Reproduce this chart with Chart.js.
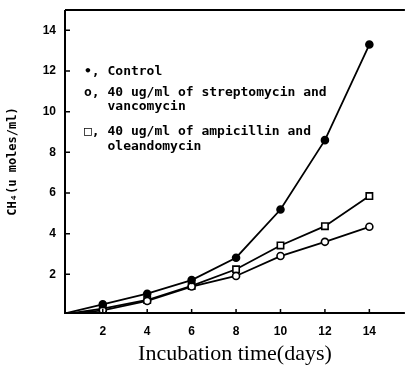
<!DOCTYPE html>
<html>
<head>
<meta charset="utf-8">
<script src="https://cdn.jsdelivr.net/npm/chart.js@4/dist/chart.umd.min.js"></script>
<style>
  html, body { margin: 0; padding: 0; background: #fff; }
  #wrap { width: 411px; height: 365px; }
</style>
</head>
<body>
<div id="wrap"><canvas id="ch4Chart"></canvas></div>
<script>
// data
const days = [0, 2, 4, 6, 8, 10, 12, 14];
const control = [0, 0.53, 1.05, 1.72, 2.82, 5.19, 8.6, 13.3];
const strepVanco = [0, 0.23, 0.69, 1.4, 1.92, 2.9, 3.6, 4.34];
const ampiOleando = [0, 0.31, 0.74, 1.43, 2.25, 3.42, 4.37, 5.85];
const xTicks = [2, 4, 6, 8, 10, 12, 14];
const yTicks = [2, 4, 6, 8, 10, 12, 14];
const legendLines = [
  "•, Control",
  "o, 40 ug/ml of streptomycin and",
  "   vancomycin",
  "□, 40 ug/ml of ampicillin and",
  "   oleandomycin"
];

const toPts = arr => arr.map((v, i) => ({ x: days[i], y: v }));

// inward ticks + top border + legend text
const decor = {
  id: "decor",
  afterDraw(chart) {
    const { ctx, chartArea, scales } = chart;
    ctx.save();
    ctx.strokeStyle = "#000";
    ctx.lineWidth = 2;
    ctx.beginPath();
    ctx.moveTo(chartArea.left, chartArea.top);
    ctx.lineTo(chartArea.right, chartArea.top);
    ctx.moveTo(chartArea.left, chartArea.top);
    ctx.lineTo(chartArea.left, chartArea.bottom);
    ctx.lineTo(chartArea.right, chartArea.bottom);
    ctx.stroke();
    ctx.lineWidth = 1.5;
    ctx.beginPath();
    yTicks.forEach(t => {
      const y = scales.y.getPixelForValue(t);
      ctx.moveTo(chartArea.left, y);
      ctx.lineTo(chartArea.left + 5, y);
    });
    xTicks.forEach(t => {
      const x = scales.x.getPixelForValue(t);
      ctx.moveTo(x, chartArea.bottom);
      ctx.lineTo(x, chartArea.bottom - 4);
    });
    ctx.stroke();

    ctx.fillStyle = "#000";
    ctx.font = "bold 13px 'DejaVu Sans Mono'";
    ctx.textBaseline = "middle";
    const ys = [72, 93, 107, 132, 147];
    legendLines.forEach((s, i) => ctx.fillText(s, 84, ys[i]));
    ctx.restore();
  }
};

new Chart(document.getElementById("ch4Chart"), {
  type: "line",
  data: {
    datasets: [
      {
        label: "Control",
        data: toPts(control),
        borderColor: "#000",
        backgroundColor: "#000",
        pointStyle: "circle",
        pointRadius: [0, 3.5, 3.5, 3.5, 3.5, 3.5, 3.5, 3.5]
      },
      {
        label: "40 ug/ml of streptomycin and vancomycin",
        data: toPts(strepVanco),
        borderColor: "#000",
        backgroundColor: "#fff",
        pointStyle: "circle",
        pointRadius: [0, 3.5, 3.5, 3.5, 3.5, 3.5, 3.5, 3.5]
      },
      {
        label: "40 ug/ml of ampicillin and oleandomycin",
        data: toPts(ampiOleando),
        borderColor: "#000",
        backgroundColor: "#fff",
        pointStyle: "rect",
        pointRadius: [0, 4.5, 4.5, 4.5, 4.5, 4.5, 4.5, 4.5]
      }
    ]
  },
  options: {
    responsive: true,
    maintainAspectRatio: false,
    animation: false,
    layout: { padding: { top: 10, right: 6, left: 0, bottom: 0 } },
    elements: {
      line: { borderWidth: 1.8, tension: 0 },
      point: { borderWidth: 1.6 }
    },
    plugins: { legend: { display: false }, tooltip: { enabled: false } },
    scales: {
      x: {
        type: "linear",
        min: 0.3,
        max: 15.6,
        border: { display: false },
        grid: { display: false, drawTicks: false },
        afterBuildTicks: s => { s.ticks = xTicks.map(v => ({ value: v })); },
        ticks: {
          color: "#000",
          padding: 11,
          font: { family: "'Liberation Sans'", weight: "bold", size: 12 }
        },
        title: {
          display: true,
          text: "Incubation time(days)",
          color: "#000",
          padding: { top: 0, bottom: 0 },
          font: { family: "'Liberation Serif'", size: 22, lineHeight: 1 }
        },
        afterFit: s => { s.height = 52; }
      },
      y: {
        min: 0.1,
        max: 15,
        border: { display: false },
        grid: { display: false, drawTicks: false },
        afterBuildTicks: s => { s.ticks = yTicks.map(v => ({ value: v })); },
        ticks: {
          color: "#000",
          padding: 9,
          font: { family: "'Liberation Sans'", weight: "bold", size: 12 }
        },
        title: {
          display: true,
          text: "CH₄(u moles/ml)",
          color: "#000",
          padding: { top: 6, bottom: 0 },
          font: { family: "'DejaVu Sans Mono'", weight: "bold", size: 12 }
        },
        afterFit: s => { s.width = 65; s.paddingTop = 0; s.paddingBottom = 0; }
      }
    }
  },
  plugins: [decor]
});
</script>
</body>
</html>
